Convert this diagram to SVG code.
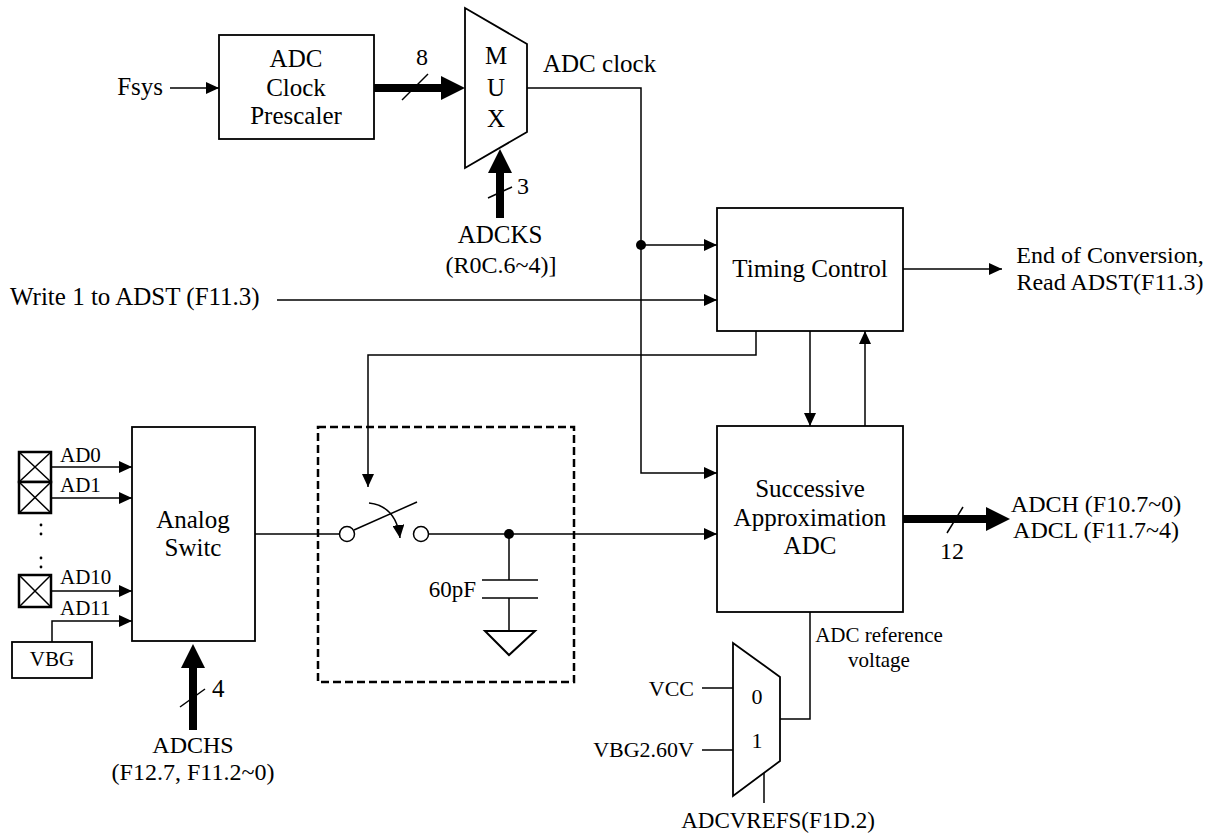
<svg xmlns="http://www.w3.org/2000/svg" width="1212" height="835" viewBox="0 0 1212 835">
<style>
text{font-family:"Liberation Serif","Times New Roman",serif;fill:#000}
.t25{font-size:25px}
.t24{font-size:24px}
.t23{font-size:23px}
.t22{font-size:22px}
.t21{font-size:21px}
.m{text-anchor:middle}
.e{text-anchor:end}
.box{fill:#fff;stroke:#000;stroke-width:1.8}
.ln{fill:none;stroke:#000;stroke-width:1.5}
.thick{fill:none;stroke:#000;stroke-width:8}
.pad{fill:#fff;stroke:#000;stroke-width:2.5}
.arr{marker-end:url(#a)}
.tarr{marker-end:url(#A)}
</style>
<defs>
<marker id="a" markerUnits="userSpaceOnUse" markerWidth="14" markerHeight="12" refX="13" refY="6" orient="auto"><path d="M0,0 L13,6 L0,12 z" fill="#000"/></marker>
<marker id="A" markerUnits="userSpaceOnUse" markerWidth="25" markerHeight="24" refX="1" refY="12" orient="auto"><path d="M0,0 L24,12 L0,24 z" fill="#000"/></marker>
</defs>

<g id="connectors">
<line class="ln arr" x1="170" y1="88" x2="219" y2="88"/>
<line class="thick tarr" x1="374" y1="88" x2="442" y2="88"/>
<line class="ln" x1="402" y1="100" x2="428" y2="74"/>
<line class="thick tarr" x1="500" y1="218" x2="500" y2="172"/>
<line class="ln" x1="488" y1="198" x2="512" y2="187"/>
<polyline class="ln arr" points="527,88 641,88 641,473 717,473"/>
<circle cx="641" cy="245" r="5" fill="#000"/>
<line class="ln arr" x1="641" y1="245" x2="717" y2="245"/>
<line class="ln arr" x1="277" y1="300" x2="717" y2="300"/>
<line class="ln arr" x1="903" y1="269" x2="1002" y2="269"/>
<polyline class="ln arr" points="756,331 756,355 368,355 368,487"/>
<line class="ln arr" x1="810" y1="331" x2="810" y2="426"/>
<line class="ln arr" x1="865" y1="426" x2="865" y2="331"/>
<line class="thick tarr" x1="903" y1="519" x2="987" y2="519"/>
<line class="ln" x1="947" y1="533" x2="963" y2="507"/>
<line class="ln arr" x1="51" y1="467" x2="132" y2="467"/>
<line class="ln arr" x1="51" y1="498" x2="132" y2="498"/>
<line class="ln arr" x1="51" y1="591" x2="132" y2="591"/>
<polyline class="ln arr" points="52,642 52,621 132,621"/>
<line class="thick tarr" x1="193" y1="730" x2="193" y2="667"/>
<line class="ln" x1="180" y1="707" x2="205" y2="689"/>
<line class="ln" x1="255" y1="534" x2="339.5" y2="534"/>
<line class="ln arr" x1="428.5" y1="534" x2="717" y2="534"/>
<polyline class="ln" points="780,719 810,719 810,612"/>
<line class="ln" x1="702" y1="688" x2="733" y2="688"/>
<line class="ln" x1="702" y1="750" x2="733" y2="750"/>
<line class="ln" x1="764" y1="773" x2="764" y2="803"/>
</g>

<g id="fsys"><text class="t25 e" x="163" y="95">Fsys</text></g>

<g id="prescaler">
<rect class="box" x="219" y="35" width="155" height="104"/>
<text class="t25 m" x="296" y="67">ADC</text>
<text class="t25 m" x="296" y="96">Clock</text>
<text class="t25 m" x="296" y="124">Prescaler</text>
</g>
<g id="bus8"><text class="t24 m" x="422" y="65">8</text></g>

<g id="mux">
<polygon class="box" points="465,8 527,44 527,132 465,168"/>
<text class="t25 m" x="496" y="64">M</text>
<text class="t25 m" x="496" y="96">U</text>
<text class="t25 m" x="496" y="127">X</text>
</g>
<g id="adcclock"><text class="t25" x="543" y="72">ADC clock</text></g>

<g id="adcks">
<text class="t24" x="517" y="194">3</text>
<text class="t25 m" x="500" y="243">ADCKS</text>
<text class="t24 m" x="501" y="273">(R0C.6~4)]</text>
</g>

<g id="write"><text class="t25" x="10" y="305">Write 1 to ADST (F11.3)</text></g>

<g id="timing">
<rect class="box" x="717" y="208" width="186" height="123"/>
<text class="t25 m" x="810" y="277">Timing Control</text>
</g>
<g id="eoc">
<text class="t24 m" x="1110" y="263">End of Conversion,</text>
<text class="t24 m" x="1110" y="290">Read ADST(F11.3)</text>
</g>

<g id="sar">
<rect class="box" x="717" y="426" width="186" height="186"/>
<text class="t25 m" x="810" y="497">Successive</text>
<text class="t25 m" x="810" y="526">Approximation</text>
<text class="t25 m" x="810" y="554">ADC</text>
</g>
<g id="result">
<text class="t24 m" x="952" y="559">12</text>
<text class="t24 m" x="1096" y="512">ADCH (F10.7~0)</text>
<text class="t24 m" x="1096" y="538">ADCL (F11.7~4)</text>
</g>

<g id="pads">
<rect class="pad" x="19" y="452" width="32" height="30"/>
<path class="ln" d="M19,452 L51,482 M51,452 L19,482"/>
<rect class="pad" x="19" y="482" width="32" height="31"/>
<path class="ln" d="M19,482 L51,513 M51,482 L19,513"/>
<rect class="pad" x="19" y="575" width="32" height="32"/>
<path class="ln" d="M19,575 L51,607 M51,575 L19,607"/>
<circle cx="41" cy="525" r="1.4" fill="#000"/>
<circle cx="41" cy="534" r="1.4" fill="#000"/>
<circle cx="41" cy="558" r="1.4" fill="#000"/>
<circle cx="41" cy="567" r="1.4" fill="#000"/>
<text class="t21" x="60" y="462">AD0</text>
<text class="t21" x="60" y="492">AD1</text>
<text class="t21" x="60" y="584">AD10</text>
<text class="t21" x="60" y="615">AD11</text>
</g>
<g id="vbg">
<rect class="box" x="12" y="642" width="80" height="36"/>
<text class="t21 m" x="52" y="666">VBG</text>
</g>

<g id="analog">
<rect class="box" x="132" y="427" width="123" height="214"/>
<text class="t25 m" x="193" y="528">Analog</text>
<text class="t25 m" x="193" y="556">Switc</text>
</g>
<g id="adchs">
<text class="t25" x="212" y="697">4</text>
<text class="t24 m" x="193" y="753">ADCHS</text>
<text class="t24 m" x="193" y="780">(F12.7, F11.2~0)</text>
</g>

<g id="sample">
<rect x="318" y="427" width="256" height="255" fill="none" stroke="#000" stroke-width="2.5" stroke-dasharray="8,4"/>
<circle cx="347" cy="534" r="7.5" fill="#fff" stroke="#000" stroke-width="1.5"/>
<circle cx="421" cy="534" r="7.5" fill="#fff" stroke="#000" stroke-width="1.5"/>
<line class="ln" x1="354" y1="530" x2="417" y2="502"/>
<path class="ln arr" d="M369,503 Q396,506 400,538"/>
<circle cx="509" cy="534" r="5" fill="#000"/>
<line class="ln" x1="509" y1="534" x2="509" y2="580"/>
<line class="ln" x1="482" y1="580" x2="538" y2="580"/>
<line class="ln" x1="482" y1="598" x2="538" y2="598"/>
<line class="ln" x1="509" y1="598" x2="509" y2="631"/>
<polygon points="485,631 535,631 509,655" fill="#fff" stroke="#000" stroke-width="2"/>
<text class="t23 e" x="476" y="597">60pF</text>
</g>

<g id="refmux">
<polygon class="box" points="733,643 780,677 780,761 733,796"/>
<text class="t22 m" x="757" y="704">0</text>
<text class="t22 m" x="757" y="748">1</text>
<text class="t22 e" x="694" y="696">VCC</text>
<text class="t22 e" x="694" y="757">VBG2.60V</text>
<text class="t23 m" x="778" y="828">ADCVREFS(F1D.2)</text>
<text class="t21 m" x="879" y="642">ADC reference</text>
<text class="t21 m" x="879" y="667">voltage</text>
</g>
</svg>
